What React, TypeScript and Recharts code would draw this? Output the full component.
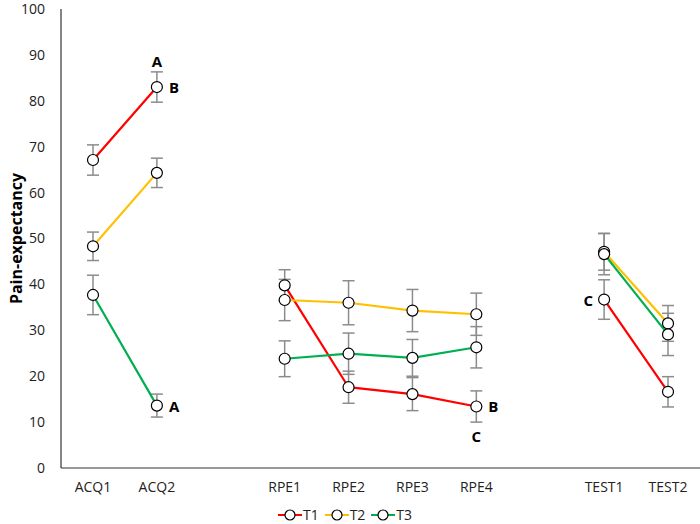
import React from 'react';
import {
  ComposedChart,
  Line,
  XAxis,
  YAxis,
  ErrorBar,
  Legend
} from 'recharts';

// '' entries are the blank slots between phases
const categories = ['ACQ1', 'ACQ2', '', 'RPE1', 'RPE2', 'RPE3', 'RPE4', '', 'TEST1', 'TEST2'];

const t1Values = [67.1, 83.0, null, 39.8, 17.6, 16.1, 13.4, null, 36.7, 16.6];
const t2Values = [48.3, 64.3, null, 36.6, 36.0, 34.3, 33.5, null, 47.1, 31.5];
const t3Values = [37.7, 13.6, null, 23.8, 24.9, 24.0, 26.3, null, 46.6, 29.1];

const t1Errors = [3.3, 3.3, null, 3.4, 3.5, 3.6, 3.4, null, 4.3, 3.3];
const t2Errors = [3.1, 3.2, null, 4.5, 4.8, 4.6, 4.6, null, 4.0, 3.9];
const t3Errors = [4.3, 2.5, null, 3.9, 4.5, 4.0, 4.5, null, 4.5, 4.6];

const yTicks = [0, 10, 20, 30, 40, 50, 60, 70, 80, 90, 100];

// significance letters: series, category, letter, placement
const annotations = [
  { series: 't1', cat: 'ACQ2', text: 'A', pos: 'top' },
  { series: 't1', cat: 'ACQ2', text: 'B', pos: 'right' },
  { series: 't3', cat: 'ACQ2', text: 'A', pos: 'right' },
  { series: 't1', cat: 'RPE4', text: 'B', pos: 'right' },
  { series: 't1', cat: 'RPE4', text: 'C', pos: 'bottom' },
  { series: 't1', cat: 'TEST1', text: 'C', pos: 'left' }
];

const series = [
  { key: 't1', name: 'T1', color: '#FF0000' },
  { key: 't2', name: 'T2', color: '#FFC000' },
  { key: 't3', name: 'T3', color: '#00B050' }
];

const data = categories.map((cat, i) => ({
  cat,
  t1: t1Values[i],
  t2: t2Values[i],
  t3: t3Values[i],
  t1Err: t1Errors[i],
  t2Err: t2Errors[i],
  t3Err: t3Errors[i]
}));

const FONT = '"Open Sans", "Liberation Sans", sans-serif';

const makeLabel = (seriesKey: string) => (props: any) => {
  const { x, y, index } = props;
  if (x == null || y == null) return null;
  const cat = categories[index];
  const items = annotations.filter(a => a.series === seriesKey && a.cat === cat);
  if (!items.length) return null;
  return (
    <g key={`lbl-${seriesKey}-${index}`}>
      {items.map((a, j) => {
        let tx = x;
        let ty = y;
        let anchor: 'middle' | 'start' | 'end' = 'middle';
        if (a.pos === 'top') ty = y - 20;
        if (a.pos === 'bottom') ty = y + 36;
        if (a.pos === 'right') { tx = x + 12; ty = y + 6; anchor = 'start'; }
        if (a.pos === 'left') { tx = x - 11; ty = y + 6; anchor = 'end'; }
        return (
          <text key={j} x={tx} y={ty} textAnchor={anchor} fontFamily={FONT}
            fontWeight="bold" fontSize={15} fill="#000">
            {a.text}
          </text>
        );
      })}
    </g>
  );
};

const LegendContent = () => (
  <div style={{ display: 'flex', justifyContent: 'center', fontFamily: FONT, fontSize: 14, color: '#222', paddingRight: 4, lineHeight: '18px', height: 18 }}>
    {series.map(s => (
      <div key={s.key} style={{ display: 'flex', alignItems: 'center', marginRight: 6 }}>
        <svg width={24} height={14}>
          <line x1={0} y1={7} x2={24} y2={7} stroke={s.color} strokeWidth={2} />
          <circle cx={12} cy={7} r={5} fill="#fff" stroke="#000" strokeWidth={1.2} />
        </svg>
        <span style={{ marginLeft: 1 }}>{s.name}</span>
      </div>
    ))}
  </div>
);

const App: React.FC = () => {
  return (
    <div style={{ position: 'absolute', left: 0, top: 0, background: '#fff' }}>
      <ComposedChart width={700} height={524} data={data}
        margin={{ top: 9, right: 0, bottom: 0, left: 0 }}>
        <XAxis dataKey="cat" axisLine={{ stroke: '#333', strokeWidth: 1.2 }} tickLine={false}
          tickSize={8} tickMargin={6} height={38} interval={0} padding={{ left: 32, right: 32 }}
          tick={{ fill: '#222', fontSize: 14, fontFamily: FONT }} />
        <YAxis domain={[0, 100]} ticks={yTicks} width={61} axisLine={{ stroke: '#333', strokeWidth: 1.2 }}
          tickLine={false} tickSize={8} tickMargin={8}
          tick={{ fill: '#222', fontSize: 14, fontFamily: FONT }}
          label={{ value: 'Pain-expectancy', angle: -90, position: 'insideLeft', offset: 16,
            style: { fontFamily: FONT, fontWeight: 'bold', fontSize: 16, fill: '#000', textAnchor: 'middle' } }} />
        <Legend verticalAlign="bottom" height={18} content={<LegendContent />} />
        {series.map(s => (
          <Line key={s.key} type="linear" dataKey={s.key} name={s.name} stroke={s.color}
            strokeWidth={2.2} isAnimationActive={false} connectNulls={false}
            dot={{ r: 5.5, fill: '#fff', stroke: '#000', strokeWidth: 1.2 }}
            activeDot={false} label={makeLabel(s.key)}>
            <ErrorBar dataKey={`${s.key}Err`} width={6} stroke="#8c8c8c" strokeWidth={1.5} isAnimationActive={false} />
          </Line>
        ))}
      </ComposedChart>
    </div>
  );
};

export default App;
